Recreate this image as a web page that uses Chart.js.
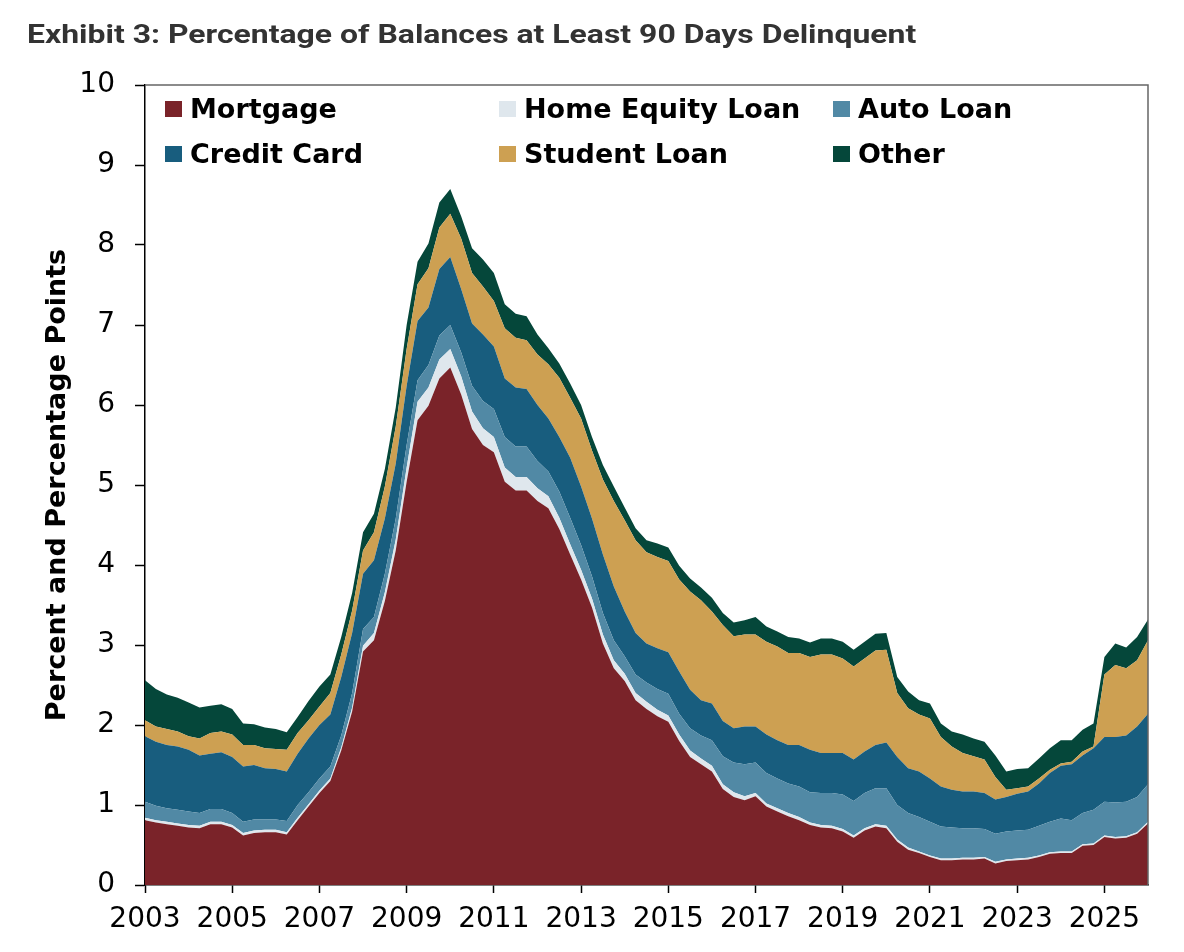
<!DOCTYPE html>
<html>
<head>
<meta charset="utf-8">
<title>Exhibit 3</title>
<script src="https://cdn.jsdelivr.net/npm/chart.js@4.4.1/dist/chart.umd.min.js"></script>
<style>
    body { margin: 0; background: #fff; }
    #wrap { position: relative; width: 1184px; height: 952px; }
    #title {
        position: absolute; left: 27px; top: 19px;
        font: 700 26px/30px Roboto, "Liberation Sans", sans-serif;
        color: #333; white-space: nowrap;
        transform: scaleX(1.228); transform-origin: left top;
    }
    .legend-item {
        position: absolute; display: flex; align-items: center;
        font: 700 27px/32px "DejaVu Sans", sans-serif; color: #000;
        white-space: nowrap;
    }
    .legend-item span.box { width: 17px; height: 16px; margin-right: 8px; display: inline-block; }
</style>
</head>
<body>
<div id="wrap">
    <canvas id="delinquencyChart" width="1184" height="952"></canvas>
    <div id="title">Exhibit 3: Percentage of Balances at Least 90 Days Delinquent</div>
    <div id="legend"></div>
</div>
<script>
// Quarterly contributions (percentage points), 2003 Q1 onward
const mortgage = [0.81, 0.78, 0.76, 0.74, 0.72, 0.71, 0.76, 0.76, 0.72, 0.62, 0.65, 0.66, 0.66, 0.63, 0.81, 0.98, 1.15, 1.30, 1.68,
    2.17, 2.92, 3.06, 3.55, 4.18, 5.04, 5.81, 5.99, 6.33, 6.47, 6.13, 5.70, 5.50, 5.41, 5.04, 4.93, 4.93, 4.80,
    4.71, 4.45, 4.13, 3.82, 3.47, 3.02, 2.71, 2.55, 2.31, 2.20, 2.11, 2.04, 1.80, 1.60, 1.51, 1.42, 1.20, 1.10, 1.06,
    1.11, 0.98, 0.92, 0.86, 0.81, 0.75, 0.72, 0.71, 0.67, 0.59, 0.68, 0.73, 0.71, 0.54, 0.44, 0.40, 0.35, 0.31, 0.31,
    0.32, 0.32, 0.33, 0.27, 0.30, 0.31, 0.32, 0.35, 0.39, 0.40, 0.40, 0.49, 0.50, 0.60, 0.58, 0.59, 0.64, 0.77];
const homeEquity = [0.03, 0.03, 0.03, 0.03, 0.03, 0.03, 0.03, 0.03, 0.03, 0.03, 0.03, 0.03, 0.03, 0.03, 0.03, 0.03, 0.03, 0.03, 0.04,
    0.05, 0.07, 0.09, 0.11, 0.14, 0.18, 0.23, 0.23, 0.24, 0.23, 0.23, 0.22, 0.21, 0.19, 0.18, 0.17, 0.17, 0.16,
    0.15, 0.14, 0.13, 0.12, 0.11, 0.11, 0.10, 0.09, 0.09, 0.09, 0.08, 0.08, 0.08, 0.08, 0.07, 0.07, 0.06, 0.06, 0.05,
    0.04, 0.04, 0.04, 0.04, 0.04, 0.03, 0.03, 0.03, 0.03, 0.03, 0.03, 0.03, 0.03, 0.03, 0.03, 0.02, 0.02, 0.02, 0.02,
    0.02, 0.02, 0.02, 0.02, 0.02, 0.02, 0.02, 0.02, 0.02, 0.02, 0.02, 0.02, 0.02, 0.02, 0.02, 0.02, 0.02, 0.02];
const autoLoan = [0.20, 0.18, 0.17, 0.17, 0.17, 0.16, 0.16, 0.16, 0.15, 0.14, 0.14, 0.13, 0.13, 0.14, 0.16, 0.15, 0.15, 0.15, 0.15,
    0.18, 0.21, 0.20, 0.23, 0.26, 0.28, 0.27, 0.28, 0.30, 0.30, 0.30, 0.32, 0.34, 0.35, 0.38, 0.38, 0.38, 0.34,
    0.31, 0.33, 0.33, 0.31, 0.28, 0.27, 0.25, 0.22, 0.23, 0.24, 0.26, 0.27, 0.26, 0.28, 0.29, 0.32, 0.35, 0.37, 0.40,
    0.38, 0.38, 0.37, 0.37, 0.38, 0.38, 0.40, 0.41, 0.43, 0.43, 0.44, 0.45, 0.47, 0.43, 0.43, 0.43, 0.42, 0.40, 0.39,
    0.37, 0.37, 0.35, 0.35, 0.35, 0.35, 0.35, 0.37, 0.38, 0.41, 0.39, 0.39, 0.42, 0.42, 0.43, 0.43, 0.44, 0.47];
const creditCard = [0.82, 0.80, 0.79, 0.79, 0.77, 0.72, 0.69, 0.71, 0.70, 0.69, 0.68, 0.64, 0.63, 0.62, 0.64, 0.67, 0.67, 0.65, 0.73,
    0.75, 0.69, 0.71, 0.69, 0.69, 0.74, 0.74, 0.72, 0.83, 0.85, 0.79, 0.78, 0.83, 0.78, 0.73, 0.74, 0.72, 0.70,
    0.66, 0.68, 0.75, 0.73, 0.72, 0.73, 0.67, 0.56, 0.52, 0.49, 0.51, 0.52, 0.53, 0.48, 0.44, 0.46, 0.44, 0.43, 0.47,
    0.45, 0.48, 0.48, 0.48, 0.52, 0.53, 0.50, 0.50, 0.52, 0.52, 0.52, 0.54, 0.57, 0.60, 0.56, 0.57, 0.54, 0.50, 0.47,
    0.46, 0.46, 0.45, 0.43, 0.43, 0.46, 0.48, 0.53, 0.61, 0.66, 0.70, 0.72, 0.77, 0.81, 0.82, 0.83, 0.88, 0.88];
const studentLoan = [0.20, 0.19, 0.20, 0.19, 0.17, 0.21, 0.26, 0.26, 0.28, 0.27, 0.25, 0.25, 0.25, 0.27, 0.26, 0.23, 0.23, 0.27, 0.28,
    0.28, 0.29, 0.35, 0.40, 0.46, 0.46, 0.46, 0.49, 0.52, 0.54, 0.63, 0.63, 0.60, 0.57, 0.63, 0.62, 0.61, 0.63,
    0.68, 0.74, 0.75, 0.85, 0.85, 0.94, 1.07, 1.14, 1.16, 1.14, 1.14, 1.14, 1.15, 1.23, 1.25, 1.15, 1.20, 1.15, 1.15,
    1.15, 1.16, 1.17, 1.15, 1.15, 1.16, 1.23, 1.23, 1.18, 1.16, 1.16, 1.18, 1.16, 0.80, 0.75, 0.71, 0.75, 0.62, 0.54,
    0.48, 0.44, 0.42, 0.28, 0.09, 0.07, 0.06, 0.06, 0.04, 0.03, 0.03, 0.05, 0.02, 0.78, 0.90, 0.84, 0.83, 0.92];
const other = [0.50, 0.47, 0.43, 0.42, 0.42, 0.39, 0.34, 0.34, 0.32, 0.27, 0.26, 0.26, 0.25, 0.22, 0.20, 0.24, 0.25, 0.23, 0.22,
    0.22, 0.23, 0.23, 0.22, 0.24, 0.30, 0.28, 0.31, 0.31, 0.31, 0.28, 0.31, 0.34, 0.35, 0.30, 0.30, 0.30, 0.25,
    0.20, 0.18, 0.18, 0.17, 0.17, 0.18, 0.18, 0.16, 0.15, 0.15, 0.17, 0.17, 0.17, 0.16, 0.16, 0.17, 0.15, 0.17, 0.18,
    0.22, 0.19, 0.19, 0.20, 0.18, 0.18, 0.20, 0.20, 0.21, 0.21, 0.21, 0.21, 0.21, 0.20, 0.21, 0.18, 0.19, 0.17, 0.19,
    0.23, 0.22, 0.22, 0.27, 0.23, 0.24, 0.23, 0.25, 0.27, 0.29, 0.27, 0.27, 0.29, 0.22, 0.27, 0.26, 0.29, 0.26];

// Axis labels
const tickYears = ['2003', '2005', '2007', '2009', '2011', '2013', '2015', '2017', '2019', '2021', '2023', '2025'];
const yTicks = [0, 1, 2, 3, 4, 5, 6, 7, 8, 9, 10];

const seriesNames = ['Mortgage', 'Home Equity Loan', 'Auto Loan', 'Credit Card', 'Student Loan', 'Other'];
const seriesColors = ['#7a2329', '#dfe7ed', '#5189a5', '#185d7e', '#cda052', '#05473a'];
const seriesData = [mortgage, homeEquity, autoLoan, creditCard, studentLoan, other];

// One category per quarter
const quarters = [];
for (let i = 0; i < mortgage.length; i++) {
    quarters.push((2003 + Math.floor(i / 4)) + ' Q' + (i % 4 + 1));
}

const datasets = seriesNames.map((name, i) => ({
    label: name,
    data: seriesData[i],
    backgroundColor: seriesColors[i],
    borderColor: 'rgba(0,0,0,0)',
    borderWidth: 1,
    pointRadius: 0,
    tension: 0,
    fill: i === 0 ? 'origin' : '-1'
}));

// Gray frame on the top and right of the plot
const framePlugin = {
    id: 'frame',
    afterDraw(chart) {
        const a = chart.chartArea;
        const c = chart.ctx;
        c.save();
        c.strokeStyle = '#666';
        c.lineWidth = 1.5;
        c.beginPath();
        c.moveTo(a.left, a.top);
        c.lineTo(a.right, a.top);
        c.lineTo(a.right, a.bottom);
        c.stroke();
        c.restore();
    }
};

const ctx = document.getElementById('delinquencyChart').getContext('2d');
const chart = new Chart(ctx, {
    type: 'line',
    data: { labels: quarters, datasets: datasets },
    options: {
        responsive: false,
        animation: false,
        layout: { padding: { left: 0, right: 36, top: 85, bottom: 0 } },
        plugins: {
            legend: { display: false },
            tooltip: { enabled: false }
        },
        scales: {
            x: {
                z: 1,
                offset: false,
                afterFit: (scale) => { scale.height = 67; },
                grid: { drawOnChartArea: false, tickLength: 8, tickColor: '#000', tickWidth: 1.5 },
                border: { color: '#000', width: 1.5 },
                ticks: {
                    autoSkip: false,
                    maxRotation: 0,
                    padding: 10,
                    color: '#000',
                    font: { family: 'DejaVu Sans', size: 28 },
                    callback: (value, index) => index % 8 === 0 ? tickYears[index / 8] : null
                }
            },
            y: {
                z: 1,
                stacked: true,
                min: yTicks[0],
                max: yTicks[yTicks.length - 1],
                afterFit: (scale) => { scale.width = 145; },
                grid: { drawOnChartArea: false, tickLength: 10, tickColor: '#000', tickWidth: 1.5 },
                border: { color: '#000', width: 1.5 },
                ticks: {
                    stepSize: 1,
                    padding: 20,
                    color: '#000',
                    font: { family: 'DejaVu Sans', size: 28 }
                },
                title: {
                    display: true,
                    text: 'Percent and Percentage Points',
                    color: '#000',
                    padding: { top: 42, bottom: 0 },
                    font: { family: 'DejaVu Sans', size: 27, weight: 'bold' }
                }
            }
        }
    },
    plugins: [framePlugin]
});

// Legend in three columns inside the top of the plot
const legendLeft = [165, 499, 833];
const legendTop = [93, 137.5];
const legend = document.getElementById('legend');
seriesNames.forEach((name, i) => {
    const item = document.createElement('div');
    item.className = 'legend-item';
    item.style.left = legendLeft[i % 3] + 'px';
    item.style.top = legendTop[Math.floor(i / 3)] + 'px';
    const box = document.createElement('span');
    box.className = 'box';
    box.style.background = seriesColors[i];
    item.appendChild(box);
    item.appendChild(document.createTextNode(name));
    legend.appendChild(item);
});
</script>
</body>
</html>
